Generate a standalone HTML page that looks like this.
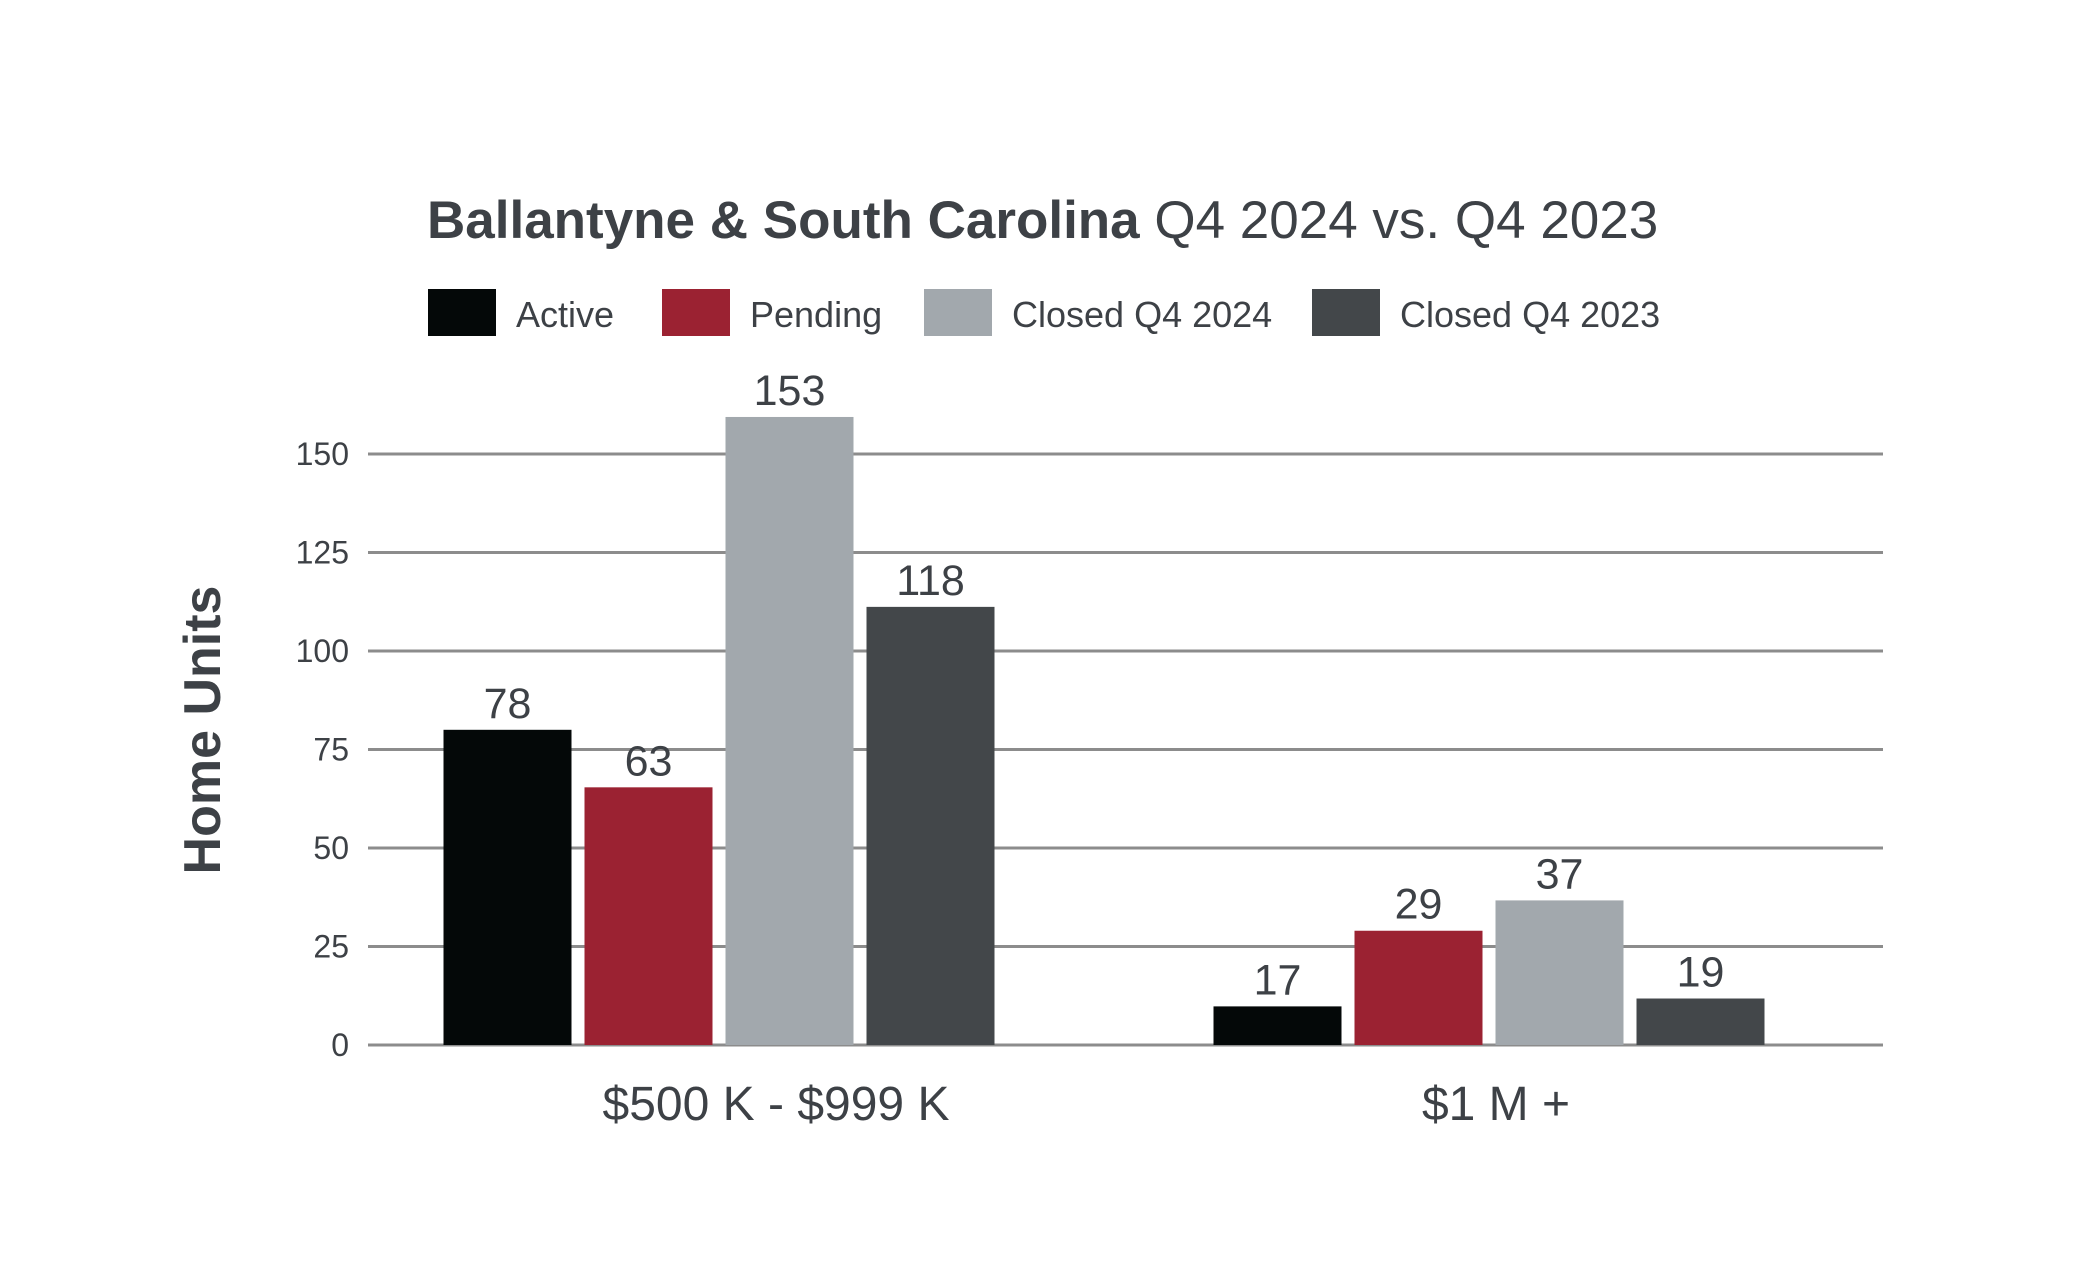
<!DOCTYPE html>
<html><head><meta charset="utf-8"><style>
html,body{margin:0;padding:0;background:#fff;}
svg{display:block;font-family:"Liberation Sans",sans-serif;}
</style></head><body>
<svg id="chart" width="2079" height="1268" viewBox="0 0 2079 1268">
<text x="427" y="238" font-size="53" fill="#3d4146"><tspan font-weight="bold">Ballantyne &amp; South Carolina</tspan> Q4 2024 vs. Q4 2023</text>
<g id="legend"></g>
<g id="grid"></g>
<g id="bars"></g>
<text x="0" y="0" transform="translate(220,730) rotate(-90)" text-anchor="middle" font-size="52" font-weight="bold" fill="#3d4146">Home Units</text>
</svg>
<script>
const categories = ["$500 K - $999 K", "$1 M +"];
const seriesNames = ["Active", "Pending", "Closed Q4 2024", "Closed Q4 2023"];
const activeValues = [80, 9.8];
const pendingValues = [65.4, 29];
const closed2024Values = [159.4, 36.7];
const closed2023Values = [111.2, 11.8];
const activeLabels = ["78", "17"];
const pendingLabels = ["63", "29"];
const closed2024Labels = ["153", "37"];
const closed2023Labels = ["118", "19"];
const yTicks = [0, 25, 50, 75, 100, 125, 150];

const colors = ["#040808", "#9b2232", "#a2a8ad", "#43474a"];
const series = [activeValues, pendingValues, closed2024Values, closed2023Values];
const seriesLabels = [activeLabels, pendingLabels, closed2024Labels, closed2023Labels];
const NS = "http://www.w3.org/2000/svg";
const x0 = 368, x1 = 1883, yBase = 1045, yTop = 454;
const y = v => yBase - (v / 150) * (yBase - yTop);
const groupCenters = [719, 1489];
const catLabelX = [776, 1496];
const barW = 128, step = 141;
const xBar = (g, s) => groupCenters[g] - (series.length * step - (step - barW)) / 2 + s * step;

function mk(tag, attrs, parent) {
  const e = document.createElementNS(NS, tag);
  for (const k in attrs) e.setAttribute(k, attrs[k]);
  parent.appendChild(e);
  return e;
}
const grid = document.getElementById('grid');
yTicks.forEach(t => {
  const l = mk('line', {x1: x0, x2: x1, y1: y(t), y2: y(t), stroke: '#8c8c8c', 'stroke-width': 3}, grid);
  
  
  const tx = mk('text', {x: 349, y: y(t) + 11, 'text-anchor': 'end', 'font-size': 32, fill: '#3d4146'}, grid);
  tx.textContent = t;
  
  
});
const bars = document.getElementById('bars');
categories.forEach((c, g) => {
  series.forEach((vals, s) => {
    const r = mk('rect', {x: xBar(g, s), y: y(vals[g]), width: barW, height: yBase - y(vals[g]), fill: colors[s]}, bars);
    
    
    const t = mk('text', {x: xBar(g, s) + barW / 2, y: y(vals[g]) - 12, 'text-anchor': 'middle', 'font-size': 43, fill: '#3d4146'}, bars);
    t.textContent = seriesLabels[s][g];
    
    
  });
  const cl = mk('text', {x: catLabelX[g], y: 1120, 'text-anchor': 'middle', 'font-size': 48, fill: '#3d4146'}, bars);
  cl.textContent = c;
  
  
});
const legend = document.getElementById('legend');
const legX = [428, 662, 924, 1312];
seriesNames.forEach((n, i) => {
  const r = mk('rect', {x: legX[i], y: 289, width: 68, height: 47, fill: colors[i]}, legend);
  
  
  const t = mk('text', {x: legX[i] + 88, y: 327, 'font-size': 36, fill: '#3d4146'}, legend);
  t.textContent = n;
  
  
});
</script>
</body></html>
